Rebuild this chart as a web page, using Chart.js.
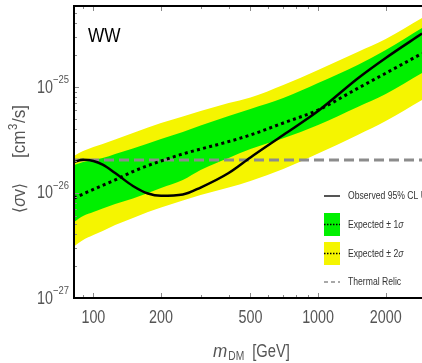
<!DOCTYPE html>
<html>
<head>
<meta charset="utf-8">
<script src="https://cdn.jsdelivr.net/npm/chart.js@4"></script>
<style>
  html, body { margin: 0; padding: 0; background: #fff; overflow: hidden; }
</style>
</head>
<body>
<canvas id="c" width="422" height="363"></canvas>
<script>
// DM mass (GeV) sample points
const masses = [82, 90, 100, 110, 125, 150, 175, 200, 250, 300, 400, 500, 700, 1000, 1500, 2000, 2900];
// <sigma v> limits (cm^3/s)
const observed = [1.945e-26, 2.04e-26, 1.99e-26, 1.835e-26, 1.53e-26, 1.153e-26, 9.78e-27, 9.31e-27, 9.57e-27, 1.115e-26, 1.53e-26, 2.15e-26, 3.51e-26, 5.92e-26, 1.204e-25, 1.884e-25, 3.21e-25];
const expected = [8.83e-27, 9.68e-27, 1.068e-26, 1.17e-26, 1.314e-26, 1.58e-26, 1.80e-26, 1.99e-26, 2.32e-26, 2.58e-26, 3.04e-26, 3.51e-26, 4.56e-26, 6.05e-26, 9.70e-26, 1.351e-25, 2.08e-25];
const oneSigmaUp = [1.82e-26, 1.945e-26, 2.03e-26, 2.12e-26, 2.32e-26, 2.61e-26, 2.91e-26, 3.21e-26, 3.75e-26, 4.32e-26, 5.31e-26, 6.19e-26, 7.87e-26, 1.091e-25, 1.616e-25, 2.24e-25, 3.63e-25];
const oneSigmaDown = [5.25e-27, 5.99e-27, 6.54e-27, 7.05e-27, 7.78e-27, 8.77e-27, 9.89e-27, 1.104e-26, 1.314e-26, 1.634e-26, 2.12e-26, 2.58e-26, 3.26e-26, 4.36e-26, 6.46e-26, 8.58e-26, 1.357e-25];
const twoSigmaUp = [2.22e-26, 2.47e-26, 2.70e-26, 2.88e-26, 3.18e-26, 3.66e-26, 4.13e-26, 4.56e-26, 5.25e-26, 5.92e-26, 7.05e-26, 7.95e-26, 1.045e-25, 1.45e-25, 2.15e-25, 2.85e-25, 4.51e-25];
const twoSigmaDown = [3.08e-27, 3.55e-27, 3.96e-27, 4.32e-27, 4.92e-27, 5.73e-27, 6.54e-27, 7.21e-27, 8.40e-27, 9.47e-27, 1.115e-26, 1.285e-26, 1.67e-26, 2.34e-26, 3.51e-26, 4.76e-26, 7.53e-26];
const relicMass = [82, 2900];
const relicValue = [2.03e-26, 2.03e-26];

const xTicks = [100, 200, 500, 1000, 2000];
const xMinor = [90, 300, 400, 600, 700, 800, 900];
const yTicks = [1e-27, 1e-26, 1e-25];
const yMinor = [2e-27, 3e-27, 4e-27, 5e-27, 6e-27, 7e-27, 8e-27, 9e-27,
                2e-26, 3e-26, 4e-26, 5e-26, 6e-26, 7e-26, 8e-26, 9e-26,
                2e-25, 3e-25, 4e-25, 5e-25];

const FONT = '"Liberation Sans", Arial, sans-serif';
const GREEN = '#00f000';
const YELLOW = '#f5f500';

const pts = ys => masses.map((m, i) => ({ x: m, y: ys[i] }));

// text squeezed horizontally, the plot uses a condensed face
function nText(ctx, str, x, y, size, opt = {}) {
  const align = opt.align || 'left';
  const sx = opt.sx || 0.82;
  ctx.save();
  ctx.font = `${opt.style || ''} ${size}px ${FONT}`;
  const w = ctx.measureText(str).width * sx;
  const x0 = align === 'right' ? x - w : align === 'center' ? x - w / 2 : x;
  ctx.translate(x0, y);
  ctx.scale(sx, 1);
  ctx.textAlign = 'left';
  ctx.fillText(str, 0, 0);
  ctx.restore();
  return w;
}

// frame, inward ticks, tick labels, titles and the legend
const decorations = {
  id: 'decorations',
  afterDraw(chart) {
    const { ctx, chartArea: a } = chart;
    const x = chart.scales.x, y = chart.scales.y;
    ctx.save();

    // ticks
    ctx.strokeStyle = '#8a8a8a';
    ctx.lineWidth = 1;
    ctx.beginPath();
    xTicks.concat(xMinor).forEach(v => {
      const px = Math.round(x.getPixelForValue(v)) + 0.5;
      const len = xTicks.includes(v) ? 5 : 3;
      ctx.moveTo(px, a.top); ctx.lineTo(px, a.top + len);
      ctx.moveTo(px, a.bottom); ctx.lineTo(px, a.bottom - len);
    });
    yTicks.concat(yMinor).forEach(v => {
      const py = Math.round(y.getPixelForValue(v)) + 0.5;
      const len = yTicks.includes(v) ? 5 : 3;
      ctx.moveTo(a.left, py); ctx.lineTo(a.left + len, py);
    });
    ctx.stroke();

    // frame
    ctx.strokeStyle = '#000';
    ctx.lineWidth = 2;
    ctx.beginPath();
    ctx.moveTo(a.right, a.top); ctx.lineTo(a.left, a.top);
    ctx.lineTo(a.left, a.bottom); ctx.lineTo(a.right, a.bottom);
    ctx.stroke();

    ctx.fillStyle = '#555';
    ctx.textBaseline = 'middle';

    // x tick labels
    xTicks.forEach(v => nText(ctx, String(v), x.getPixelForValue(v), 318, 17.5, { align: 'center' }));

    // y tick labels 10^n
    yTicks.forEach(v => {
      const py = y.getPixelForValue(v);
      const sup = '\u2212' + Math.abs(Math.round(Math.log10(v)));
      const sw = nText(ctx, sup, 69, py - 7, 11.5, { align: 'right' });
      nText(ctx, '10', 69 - sw, py + 1, 17.5, { align: 'right' });
    });

    // y title
    ctx.save();
    ctx.translate(25, 0);
    ctx.rotate(-Math.PI / 2);
    ctx.textBaseline = 'alphabetic';
    let cx = -213;
    cx += nText(ctx, '\u27e8', cx, 0, 17, { sx: 0.9 });
    cx += nText(ctx, '\u03c3', cx, 0, 18, { sx: 0.9, style: 'italic' });
    cx += nText(ctx, 'v', cx, 0, 18, { sx: 0.9 });
    nText(ctx, '\u27e9', cx, 0, 17, { sx: 0.9 });
    cx = -158;
    cx += nText(ctx, '[cm', cx, 0, 18, { sx: 0.95 });
    cx += nText(ctx, '3', cx + 0.5, -8, 12, { sx: 0.95 }) + 1;
    nText(ctx, '/s]', cx, 0, 18, { sx: 0.95 });
    ctx.restore();

    // x title
    ctx.textBaseline = 'alphabetic';
    let tx = 213;
    tx += nText(ctx, 'm', tx, 357, 19, { style: 'italic', sx: 0.9 });
    tx += nText(ctx, 'DM', tx + 1, 360, 12.5) + 9;
    nText(ctx, '[GeV]', tx, 357, 18);

    // panel label
    ctx.fillStyle = '#000';
    ctx.textBaseline = 'middle';
    nText(ctx, 'WW', 88, 36, 21);

    // legend
    const lx = 324, lw = 16, tx0 = 348;
    ctx.strokeStyle = '#555';
    ctx.lineWidth = 2;
    ctx.beginPath(); ctx.moveTo(lx, 196); ctx.lineTo(lx + lw, 196); ctx.stroke();
    ctx.fillStyle = '#333';
    nText(ctx, 'Observed 95% CL Upper Limit', tx0, 196, 10.5);

    const sigmaItem = (color, yTop, n) => {
      ctx.fillStyle = color;
      ctx.fillRect(lx, yTop, lw, 23);
      ctx.strokeStyle = '#000';
      ctx.lineWidth = 1.3;
      ctx.setLineDash([1.5, 1.5]);
      ctx.beginPath(); ctx.moveTo(lx, yTop + 11.5); ctx.lineTo(lx + lw, yTop + 11.5); ctx.stroke();
      ctx.setLineDash([]);
      ctx.fillStyle = '#333';
      const w = nText(ctx, 'Expected \u00b1 ' + n, tx0, yTop + 12, 10.5);
      nText(ctx, '\u03c3', tx0 + w, yTop + 12, 10.5, { style: 'italic' });
    };
    sigmaItem(GREEN, 213, 1);
    sigmaItem(YELLOW, 242, 2);

    ctx.strokeStyle = '#8c8c8c';
    ctx.lineWidth = 1.5;
    ctx.setLineDash([4, 3]);
    ctx.beginPath(); ctx.moveTo(lx, 282); ctx.lineTo(lx + lw, 282); ctx.stroke();
    ctx.setLineDash([]);
    ctx.fillStyle = '#333';
    nText(ctx, 'Thermal Relic', tx0, 282, 10.5);

    ctx.restore();
  }
};

new Chart(document.getElementById('c'), {
  type: 'line',
  data: {
    datasets: [
      { label: 'Observed 95% CL', data: pts(observed), borderColor: '#000', borderWidth: 2.5,
        pointRadius: 0, fill: false, cubicInterpolationMode: 'monotone', order: 0 },
      { label: 'Expected', data: pts(expected), borderColor: '#000', borderWidth: 3, borderDash: [3, 3.3],
        borderCapStyle: 'butt', pointRadius: 0, fill: false, cubicInterpolationMode: 'monotone', order: 1 },
      { label: 'Thermal Relic', data: relicMass.map((m, i) => ({ x: m, y: relicValue[i] })),
        borderColor: '#8c8c8c', borderWidth: 3, borderDash: [10, 5], pointRadius: 0, fill: false, order: 2 },
      { label: 'Expected +1 sigma', data: pts(oneSigmaUp), borderWidth: 0, backgroundColor: GREEN,
        fill: '+1', pointRadius: 0, cubicInterpolationMode: 'monotone', order: 3 },
      { label: 'Expected -1 sigma', data: pts(oneSigmaDown), borderWidth: 0, fill: false,
        pointRadius: 0, cubicInterpolationMode: 'monotone', order: 4 },
      { label: 'Expected +2 sigma', data: pts(twoSigmaUp), borderWidth: 0, backgroundColor: YELLOW,
        fill: '+1', pointRadius: 0, cubicInterpolationMode: 'monotone', order: 5 },
      { label: 'Expected -2 sigma', data: pts(twoSigmaDown), borderWidth: 0, fill: false,
        pointRadius: 0, cubicInterpolationMode: 'monotone', order: 6 }
    ]
  },
  options: {
    responsive: false,
    animation: false,
    devicePixelRatio: 1,
    layout: { padding: { top: 6, left: 0, right: 0, bottom: 0 } },
    plugins: { legend: { display: false }, tooltip: { enabled: false } },
    scales: {
      x: {
        type: 'logarithmic', min: 82, max: 2900, bounds: 'data',
        grid: { display: false, drawTicks: false }, border: { display: false },
        ticks: { display: false },
        afterBuildTicks: s => { s.ticks = xTicks.map(v => ({ value: v })); },
        afterFit: s => { s.height = 65; }
      },
      y: {
        type: 'logarithmic', min: 1e-27, max: 5.86e-25, bounds: 'data',
        grid: { display: false, drawTicks: false }, border: { display: false },
        ticks: { display: false },
        afterBuildTicks: s => { s.ticks = yTicks.map(v => ({ value: v })); },
        afterFit: s => { s.width = 74; }
      }
    }
  },
  plugins: [decorations]
});
</script>
</body>
</html>
